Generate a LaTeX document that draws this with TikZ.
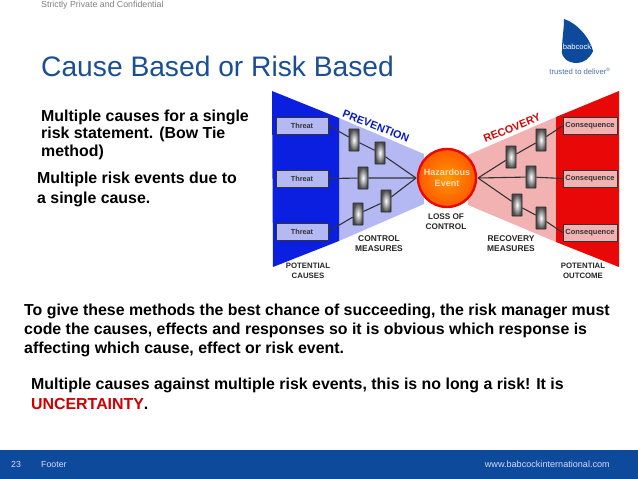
\documentclass[tikz,border=0pt]{standalone}
\usepackage{fontspec}
\setmainfont{Liberation Sans}
\definecolor{footblue}{HTML}{0D4A9C}
\definecolor{titleblue}{HTML}{1B4F93}
\definecolor{riskblue}{HTML}{0A1FE0}
\definecolor{lightblue}{HTML}{B4B9F4}
\definecolor{riskred}{HTML}{E80808}
\definecolor{lightred}{HTML}{F2B2B2}
\tikzset{
 body/.style={anchor=north west,align=left,font=\fontsize{15.9}{19}\selectfont\bfseries,text=black,inner sep=0pt},
 caplabel/.style={align=center,font=\fontsize{8.2}{10}\selectfont\bfseries,text=black!85,inner sep=0pt},
 threatbox/.style={draw=black!80,line width=.9pt,left color=lightblue,middle color=white,right color=lightblue,minimum width=52pt,minimum height=17pt,inner sep=0pt,font=\fontsize{7.3}{8}\selectfont\bfseries,text=black!80},
 consbox/.style={draw=black!80,line width=.9pt,left color=lightred,middle color=white,right color=lightred,minimum width=54pt,minimum height=17pt,inner sep=0pt,font=\fontsize{7.5}{8}\selectfont\bfseries,text=black!80},
 ctrl/.style={draw=black!85,line width=.8pt,minimum width=10pt,minimum height=22pt,inner sep=0pt,rounded corners=.5pt,inner color=white,outer color=black!70},
 link/.style={draw=black!80,line width=1.1pt},
 small/.style={font=\fontsize{8.8}{10}\selectfont,inner sep=0pt}
}
\begin{document}
\begin{tikzpicture}[x=1pt,y=-1pt]
\useasboundingbox (0,0) rectangle (638,479);
\fill[white] (0,0) rectangle (638,479);
% header
\node[small,anchor=west,text=black!50] (conf) at (41,5) {Strictly Private and Confidential};
\node[anchor=west,inner sep=0pt,text=titleblue,font=\fontsize{28.2}{32}\selectfont] (title) at (41,66) {Cause Based or Risk Based};
% logo
\fill[footblue] (564,19) .. controls (577,23) and (590,38) .. (593,51) .. controls (590,58) and (584,63) .. (577,63) .. controls (568,63) and (561,58) .. (562,50) .. controls (562,38) and (564,30) .. (564,19) -- cycle;
\node[inner sep=0pt,text=white,font=\fontsize{7.6}{9}\selectfont] (logo) at (577,46.5) {babcock};
\node[inner sep=0pt,text=titleblue!80,font=\fontsize{7.7}{9}\selectfont] (tag) at (580,71) {trusted to deliver\textsuperscript{\tiny ®}};
% body text
\node[body,font=\fontsize{15.9}{17.5}\selectfont\bfseries] (t1) at (41,109.5) {Multiple causes for a single\\risk statement. (Bow Tie\\method)};
\node[body,font=\fontsize{15.9}{20}\selectfont\bfseries] (t2) at (37,172) {Multiple risk events due to\\a single cause.};
\node[body] (t3) at (24,304) {To give these methods the best chance of succeeding, the risk manager must\\code the causes, effects and responses so it is obvious which response is\\affecting which cause, effect or risk event.};
\node[body,font=\fontsize{15.9}{20}\selectfont\bfseries] (t4) at (31,378) {Multiple causes against multiple risk events, this is no long a risk! It is\\\textcolor{red!80!black}{UNCERTAINTY}\textcolor{black}{.}};
% bow tie wings
\fill[lightblue] (339,118) -- (424,154) -- (424,204) -- (339,241) -- cycle;
\fill[riskblue] (272,91) -- (339,118) -- (339,241) -- (273,267) -- cycle;
\fill[lightred] (556,117) -- (468,155) -- (468,205) -- (556,242) -- cycle;
\fill[riskred] (619,91) -- (556,117) -- (556,242) -- (619,267) -- cycle;
% nodes
\node[circle,draw=riskred,line width=2.4pt,minimum size=58pt,inner sep=0pt,inner color=orange!80!yellow,outer color=orange!70!red,align=center,text=orange!25!white,font=\fontsize{9}{11.5}\selectfont\bfseries] (ev) at (447,178) {Hazardous\\Event};
\node[threatbox] (th1) at (302,125.5) {Threat};
\node[threatbox] (th2) at (302,178.5) {Threat};
\node[threatbox] (th3) at (302,231.5) {Threat};
\node[consbox] (co1) at (590,126) {Consequence};
\node[consbox] (co2) at (590,178.5) {Consequence};
\node[consbox] (co3) at (590,232.5) {Consequence};
\coordinate (evl) at (416,178);
\coordinate (evr) at (478,178);
\node[ctrl] (a1) at (354,140) {};
\node[ctrl] (a2) at (380,153) {};
\node[ctrl] (b1) at (363,178) {};
\node[ctrl] (c1) at (358,214) {};
\node[ctrl] (c2) at (386,201) {};
\node[ctrl] (d1) at (541,140) {};
\node[ctrl] (d2) at (511,157) {};
\node[ctrl] (e1) at (531,177) {};
\node[ctrl] (f1) at (517,205) {};
\node[ctrl] (f2) at (541,218) {};
% connectors
\draw[link] (th1.east) -- (a1) (a1) -- (a2) (a2) -- (evl);
\draw[link] (th2.east) -- (b1) (b1) -- (evl);
\draw[link] (th3.east) -- (c1) (c1) -- (c2) (c2) -- (evl);
\draw[link] (co1.west) -- (d1) (d1) -- (d2) (d2) -- (evr);
\draw[link] (co2.west) -- (e1) (e1) -- (evr);
\draw[link] (co3.west) -- (f2) (f2) -- (f1) (f1) -- (evr);
% labels
\node[rotate=-21.5,inner sep=0pt,text=riskblue!85!black,font=\fontsize{10.8}{12}\selectfont\bfseries] (prev) at (376,126) {PREVENTION};
\node[rotate=22,inner sep=0pt,text=riskred!90!black,font=\fontsize{10.8}{12}\selectfont\bfseries] (rec) at (512,128) {RECOVERY};
\node[caplabel] (l1) at (446,222) {LOSS OF\\CONTROL};
\node[caplabel,font=\fontsize{8.4}{10}\selectfont\bfseries] (l2) at (379,244) {CONTROL\\MEASURES};
\node[caplabel,font=\fontsize{8.4}{10}\selectfont\bfseries] (l3) at (511,244) {RECOVERY\\MEASURES};
\node[caplabel,font=\fontsize{7.8}{9.6}\selectfont\bfseries] (l4) at (308,271) {POTENTIAL\\CAUSES};
\node[caplabel,font=\fontsize{7.8}{9.6}\selectfont\bfseries] (l5) at (583,271) {POTENTIAL\\OUTCOME};
% footer
\fill[footblue] (0,450) rectangle (638,479);
\node[small,anchor=west,text=white!85!blue] (pg) at (11,464.5) {23};
\node[small,anchor=west,text=white!85!blue] (ft) at (41,464.5) {Footer};
\node[small,anchor=east,text=white!85!blue,font=\fontsize{9.1}{10}\selectfont] (url) at (610,464.5) {www.babcockinternational.com};
\end{tikzpicture}
\end{document}
